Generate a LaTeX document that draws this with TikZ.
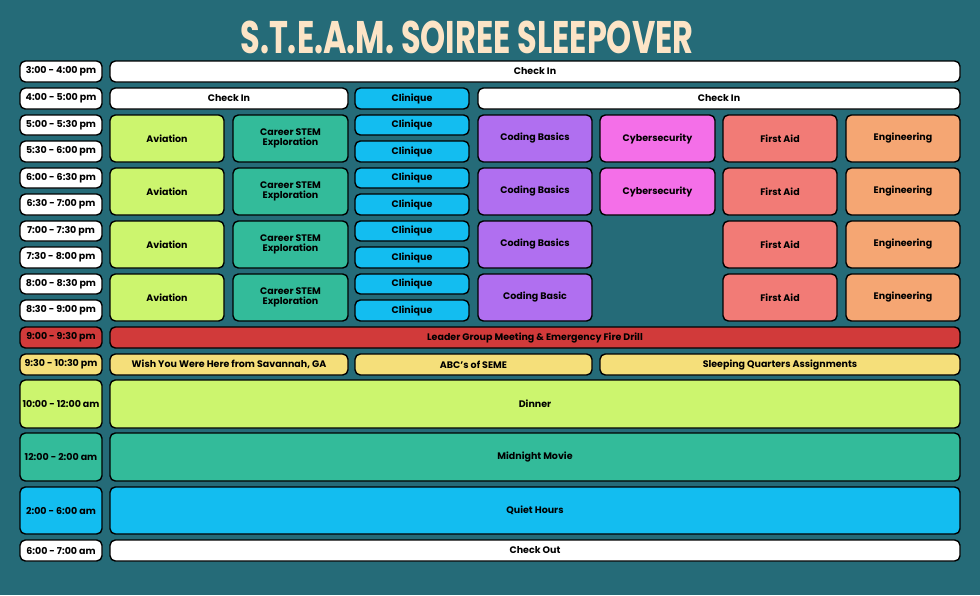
\documentclass[tikz,border=0pt]{standalone}
\usepackage{fontspec}
\setmainfont{Poppins}
\usetikzlibrary{positioning}

\definecolor{bgteal}{HTML}{256B78}
\definecolor{cream}{HTML}{FCE4C6}
\definecolor{lime}{HTML}{CCF56E}
\definecolor{jade}{HTML}{33BB9A}
\definecolor{sky}{HTML}{13BDF0}
\definecolor{violet}{HTML}{B06FF0}
\definecolor{orchid}{HTML}{F46FE8}
\definecolor{salmon}{HTML}{F27B76}
\definecolor{peach}{HTML}{F5A673}
\definecolor{firered}{HTML}{D13A3A}
\definecolor{butter}{HTML}{F5DF7A}

% one cell of the grid: name, x1, y1, x2, y2, fill, text
\newcommand{\slot}[7]{%
  \draw[cell, fill=#6] (#2,#3) rectangle (#4,#5);
  \node[label] (#1) at ({(#2+#4)/2},{(#3+#5)/2}) {#7};}

\begin{document}
\begin{tikzpicture}[x=0.02cm, y=-0.02cm,
    cell/.style={draw=black, line width=0.8pt, rounded corners=3pt},
    label/.style={font=\fontsize{5.4}{6}\selectfont\bfseries, align=center, text=black}
]
    \fill[bgteal] (0,0) rectangle (980,595);
    \node[font=\fontsize{26}{26}\selectfont\bfseries, text=cream, xscale=0.7] (title) at (467,37) {S.T.E.A.M. SOIREE SLEEPOVER};

    % Time column
    \slot{t1}{20}{61}{102}{82}{white}{3:00 - 4:00 pm}
    \slot{t2}{20}{88}{102}{109}{white}{4:00 - 5:00 pm}
    \slot{t3}{20}{115}{102}{135}{white}{5:00 - 5:30 pm}
    \slot{t4}{20}{141}{102}{162}{white}{5:30 - 6:00 pm}
    \slot{t5}{20}{168}{102}{188}{white}{6:00 - 6:30 pm}
    \slot{t6}{20}{194}{102}{215}{white}{6:30 - 7:00 pm}
    \slot{t7}{20}{221}{102}{241}{white}{7:00 - 7:30 pm}
    \slot{t8}{20}{247}{102}{268}{white}{7:30 - 8:00 pm}
    \slot{t9}{20}{274}{102}{294}{white}{8:00 - 8:30 pm}
    \slot{t10}{20}{300}{102}{321}{white}{8:30 - 9:00 pm}
    \slot{t11}{20}{327}{102}{348}{firered}{9:00 - 9:30 pm}
    \slot{t12}{20}{354}{102}{375}{butter}{9:30 - 10:30 pm}
    \slot{t13}{20}{380}{102}{428}{lime}{10:00 - 12:00 am}
    \slot{t14}{20}{433}{102}{481}{jade}{12:00 - 2:00 am}
    \slot{t15}{20}{487}{102}{534}{sky}{2:00 - 6:00 am}
    \slot{t16}{20}{540}{102}{561}{white}{6:00 - 7:00 am}

    % Opening rows
    \slot{checkina}{110}{61}{960}{82}{white}{Check In}
    \slot{checkinb}{110}{88}{348}{109}{white}{Check In}
    \slot{cliq0}{355}{88}{469}{109}{sky}{Clinique}
    \slot{checkinc}{478}{88}{960}{109}{white}{Check In}

    % Activity blocks
    \foreach \i/\ya/\yb in {1/115/162, 2/168/215, 3/221/268, 4/274/321} {
        \slot{avi\i}{110}{\ya}{224}{\yb}{lime}{Aviation}
        \slot{car\i}{233}{\ya}{348}{\yb}{jade}{Career STEM\\Exploration}
        \slot{fa\i}{723}{\ya}{837}{\yb}{salmon}{First Aid}
        \slot{eng\i}{846}{\ya}{960}{\yb}{peach}{Engineering}
    }
    \slot{code1}{478}{115}{592}{162}{violet}{Coding Basics}
    \slot{code2}{478}{168}{592}{215}{violet}{Coding Basics}
    \slot{code3}{478}{221}{592}{268}{violet}{Coding Basics}
    \slot{code4}{478}{274}{592}{321}{violet}{Coding Basic}
    \slot{cyber1}{600}{115}{715}{162}{orchid}{Cybersecurity}
    \slot{cyber2}{600}{168}{715}{215}{orchid}{Cybersecurity}
    \foreach \i/\ya/\yb in {1/115/135, 2/141/162, 3/168/188, 4/194/215, 5/221/241, 6/247/268, 7/274/294, 8/300/321} {
        \slot{cliq\i}{355}{\ya}{469}{\yb}{sky}{Clinique}
    }

    % Evening rows
    \slot{drill}{110}{327}{960}{348}{firered}{Leader Group Meeting \& Emergency Fire Drill}
    \slot{savannah}{110}{354}{348}{375}{butter}{Wish You Were Here from Savannah, GA}
    \slot{seme}{355}{354}{592}{375}{butter}{ABC's of SEME}
    \slot{quarters}{600}{354}{960}{375}{butter}{Sleeping Quarters Assignments}
    \slot{dinner}{110}{380}{960}{428}{lime}{Dinner}
    \slot{movie}{110}{433}{960}{481}{jade}{Midnight Movie}
    \slot{quiet}{110}{487}{960}{534}{sky}{Quiet Hours}
    \slot{checkout}{110}{540}{960}{561}{white}{Check Out}
\end{tikzpicture}
\end{document}
